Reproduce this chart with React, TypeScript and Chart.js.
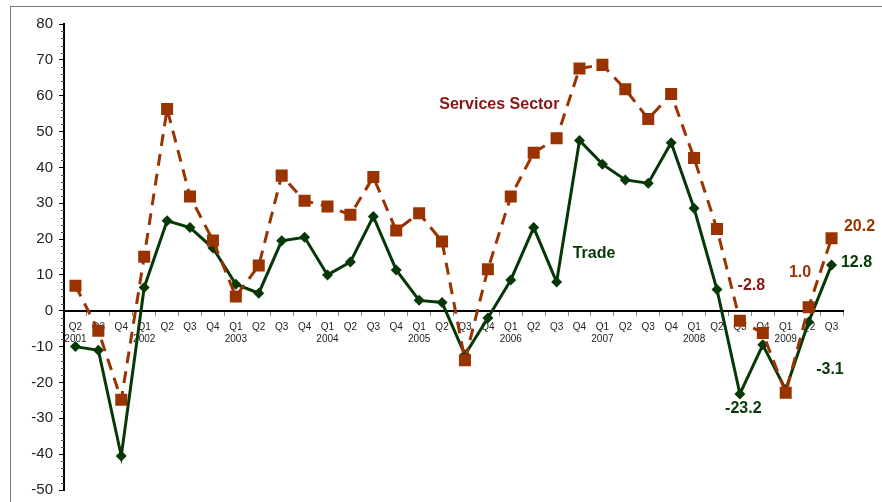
import React, { useEffect, useRef } from "react";
import { Chart, registerables } from "chart.js";

Chart.register(...registerables);

const quarters = [
  "Q2", "Q3", "Q4",
  "Q1", "Q2", "Q3", "Q4",
  "Q1", "Q2", "Q3", "Q4",
  "Q1", "Q2", "Q3", "Q4",
  "Q1", "Q2", "Q3", "Q4",
  "Q1", "Q2", "Q3", "Q4",
  "Q1", "Q2", "Q3", "Q4",
  "Q1", "Q2", "Q3", "Q4",
  "Q1", "Q2", "Q3",
];

const years = [
  "2001", "", "",
  "2002", "", "", "",
  "2003", "", "", "",
  "2004", "", "", "",
  "2005", "", "", "",
  "2006", "", "", "",
  "2007", "", "", "",
  "2008", "", "", "",
  "2009", "", "",
];

const tradeValues = [
  -10, -11, -40.5,
  6.5, 25.1, 23.2, 17.5,
  7.4, 4.9, 19.5, 20.5,
  10.0, 13.6, 26.3, 11.4,
  2.9, 2.3, -12.3, -2.0,
  8.6, 23.2, 8.0, 47.5,
  40.9, 36.5, 35.6, 46.9,
  28.6, 5.9, -23.2, -9.5,
  -22.0, -3.1, 12.8,
];

const servicesValues = [
  7.0, -5.6, -24.8,
  15.1, 56.3, 31.9, 19.6,
  4.0, 12.6, 37.7, 30.7,
  29.1, 26.8, 37.3, 22.4,
  27.2, 19.3, -13.8, 11.6,
  31.9, 44.1, 48.1, 67.6,
  68.6, 61.8, 53.5, 60.5,
  42.6, 22.8, -2.8, -6.2,
  -22.9, 1.0, 20.2,
];

const yMin = -50;
const yMax = 80;
const yStep = 10;
const yMinorStep = 2;

const GREEN = "#063806";
const ORANGE = "#993300";
const DARKRED = "#8B1414";
const FONT = "'Liberation Sans', Arial, Helvetica, sans-serif";

// annotation texts: anchored on the chart's scales (x = category position, y = value)
const annotations = [
  { text: "Services Sector", x: 18.5, y: 57.4, align: "center", color: DARKRED },
  { text: "Trade", x: 21.7, y: 15.9, align: "left", color: GREEN },
  { text: "-2.8", x: 28.9, y: 7.0, align: "left", color: DARKRED },
  { text: "-23.2", x: 29.15, y: -27.3, align: "center", color: GREEN },
  { text: "-3.1", x: 32.33, y: -16.4, align: "left", color: GREEN },
  { text: "1.0", x: 32.11, y: 10.6, align: "right", color: ORANGE },
  { text: "20.2", x: 33.54, y: 23.4, align: "left", color: ORANGE },
  { text: "12.8", x: 33.41, y: 13.4, align: "left", color: GREEN },
];

const decorPlugin = {
  id: "decor",
  beforeDraw(chart: any) {
    const ctx = chart.ctx;
    ctx.save();
    ctx.fillStyle = "#ffffff";
    ctx.fillRect(0, 0, chart.width, chart.height);
    ctx.strokeStyle = "#7a7a7a";
    ctx.lineWidth = 1;
    ctx.strokeRect(10.5, 6.5, 2000, 2000);
    ctx.restore();
  },
  afterDraw(chart: any) {
    const ctx = chart.ctx;
    const y = chart.scales.y;
    const left = chart.chartArea.left;
    ctx.save();
    // minor ticks on y axis
    ctx.strokeStyle = "#555";
    ctx.lineWidth = 1;
    for (let v = yMin; v <= yMax; v += yMinorStep) {
      if (v % yStep === 0) continue;
      const py = Math.round(y.getPixelForValue(v)) + 0.5;
      ctx.beginPath();
      ctx.moveTo(left - 3, py);
      ctx.lineTo(left, py);
      ctx.stroke();
    }
    // annotations
    const x = chart.scales.x;
    ctx.font = `bold 16px ${FONT}`;
    ctx.textBaseline = "middle";
    for (const a of annotations) {
      ctx.fillStyle = a.color;
      ctx.textAlign = a.align as CanvasTextAlign;
      ctx.fillText(a.text, x.getPixelForValue(a.x), y.getPixelForValue(a.y));
    }
    ctx.restore();
  },
};

export default function App() {
  const ref = useRef<HTMLCanvasElement>(null);
  useEffect(() => {
    const labels = quarters.map((q, i) => (years[i] ? [q, years[i]] : q));
    const chart = new Chart(ref.current as HTMLCanvasElement, {
      type: "line",
      data: {
        labels,
        datasets: [
          {
            label: "Services Sector",
            data: servicesValues,
            borderColor: ORANGE,
            backgroundColor: ORANGE,
            borderWidth: 3,
            borderDash: [12, 8],
            pointStyle: "rect",
            pointRadius: 8.5,
            pointBorderWidth: 0,
            pointBackgroundColor: ORANGE,
            tension: 0,
            order: 0,
          },
          {
            label: "Trade",
            data: tradeValues,
            borderColor: GREEN,
            backgroundColor: GREEN,
            borderWidth: 3,
            pointStyle: "rectRot",
            pointRadius: 5.5,
            pointBorderWidth: 0,
            pointBackgroundColor: GREEN,
            tension: 0,
            order: 1,
          },
        ],
      },
      options: {
        responsive: false,
        animation: false,
        layout: { autoPadding: false, padding: { left: 0, top: 24, right: 39, bottom: 12 } },
        plugins: {
          legend: { display: false },
          tooltip: { enabled: false },
        },
        scales: {
          x: {
            type: "category",
            offset: true,
            position: { y: 0 } as any,
            afterFit: (scale: any) => {
              scale.paddingLeft = 0;
              scale.paddingRight = 0;
            },
            grid: {
              display: true,
              drawOnChartArea: false,
              drawTicks: true,
              tickLength: 4,
              color: "#888",
              offset: true,
            },
            border: { display: true, color: "#000", width: 2 },
            ticks: {
              autoSkip: false,
              maxRotation: 0,
              minRotation: 0,
              padding: 6,
              color: "#222",
              font: { family: FONT, size: 10 },
            },
          },
          y: {
            min: yMin,
            max: yMax,
            afterFit: (scale: any) => {
              scale.width = 64;
              scale.paddingTop = 0;
              scale.paddingBottom = 0;
            },
            grid: {
              display: true,
              drawOnChartArea: false,
              drawTicks: true,
              tickLength: 5,
              color: "#000",
            },
            border: { display: true, color: "#000", width: 2 },
            ticks: {
              stepSize: yStep,
              padding: 6,
              color: "#222",
              font: { family: FONT, size: 15 },
            },
          },
        },
      },
      plugins: [decorPlugin],
    });
    return () => chart.destroy();
  }, []);
  return (
    <div style={{ position: "absolute", left: 0, top: 0, width: 882, height: 502 }}>
      <canvas ref={ref} width={882} height={502} style={{ display: "block" }} />
    </div>
  );
}
